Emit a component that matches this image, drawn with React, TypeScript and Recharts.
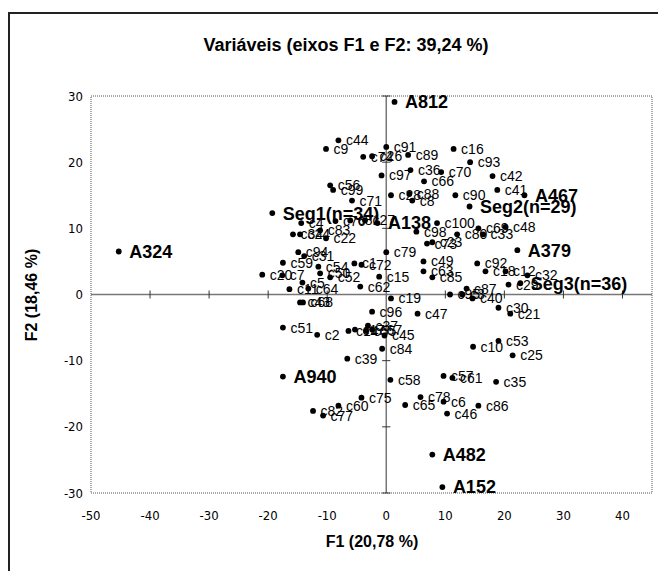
import React from "react";
import {
  ScatterChart,
  Scatter,
  XAxis,
  YAxis,
  ZAxis,
  ReferenceLine,
  ReferenceArea,
  LabelList,
} from "recharts";

// variable points (regular labels)
const varNames = [
  "c44", "c9", "c74", "c26", "c91", "c89", "c16", "c93", "c42", "c97",
  "c36", "c70", "c66", "c56", "c99", "c71", "c28", "c88", "c8", "c90",
  "c41", "c100", "c98", "c80", "c69", "c33", "c48", "c73", "c23", "c49",
  "c79", "c72", "c15", "c63", "c85", "c92", "c18", "c12", "c32", "c29",
  "c87", "c40", "c3", "c95", "c19", "c96", "c47", "c30", "c21", "c51",
  "c2", "c14", "c17", "c37", "c67", "c55", "c45", "c84", "c10", "c53",
  "c25", "c39", "c58", "c57", "c61", "c35", "c75", "c78", "c65", "c6",
  "c46", "c86", "c60", "c82", "c77", "c24", "c34", "c83", "c22", "c4",
  "c76", "c81", "c27", "c94", "c59", "c1", "c20", "c7", "c31", "c52",
  "c50", "c5", "c64", "c62", "c11", "c43", "c68", "c54",
];
const varF1 = [
  -8.1, -10.2, -3.9, -2.4, 0.0, 3.7, 11.4, 14.2, 18.0, -0.8,
  4.1, 9.3, 6.4, -9.5, -9.0, -5.8, 0.8, 3.9, 4.4, 11.7,
  18.8, 8.6, 5.1, 12.0, 15.6, 16.4, 20.2, 6.9, 7.8, 6.3,
  0.0, -4.2, -1.2, 6.3, 7.8, 15.4, 16.8, 20.2, 23.9, 20.7,
  13.6, 14.6, 12.9, 10.8, 0.8, -2.4, 5.3, 19.0, 21.0, -17.5,
  -11.7, -6.4, -5.3, -3.1, -2.4, -3.4, -0.3, -0.7, 14.7, 19.0,
  21.4, -6.6, 0.7, 9.7, 11.2, 18.6, -4.2, 5.8, 3.2, 9.7,
  10.3, 15.6, -8.1, -12.4, -10.7, -14.6, -15.8, -11.2, -10.2, -14.4,
  -8.6, -6.1, -3.6, -14.9, -17.5, -5.4, -21.0, -17.6, -13.9, -9.5,
  -11.2, -14.2, -13.2, -4.4, -16.4, -14.6, -14.1, -11.5,
];
const varF2 = [
  23.3, 22.0, 20.8, 20.9, 22.3, 21.1, 22.0, 20.0, 17.9, 18.0,
  18.8, 18.5, 17.1, 16.5, 15.8, 14.2, 15.0, 15.2, 14.2, 15.0,
  15.8, 10.8, 9.5, 9.1, 10.0, 9.1, 10.2, 7.7, 7.9, 5.0,
  6.4, 4.5, 2.7, 3.5, 2.6, 4.7, 3.5, 3.5, 2.9, 1.5,
  0.9, -0.6, 0.0, 0.0, -0.6, -2.6, -2.9, -2.0, -2.9, -5.0,
  -6.1, -5.5, -5.3, -4.7, -5.3, -5.5, -6.2, -8.2, -7.9, -7.0,
  -9.2, -9.7, -12.9, -12.3, -12.6, -13.2, -15.6, -15.5, -16.7, -16.2,
  -18.0, -16.8, -16.8, -17.6, -18.3, 9.1, 9.1, 9.7, 8.5, 10.8,
  11.1, 11.2, 11.2, 6.4, 4.8, 4.7, 3.0, 2.9, 5.8, 2.6,
  3.2, 1.8, 0.9, 1.2, 0.8, -1.2, -1.2, 4.2,
];

// supplementary points (bold labels)
const supNames = [
  "A812", "A467", "Seg1(n=34)", "Seg2(n=29)", "A138", "A324",
  "A379", "Seg3(n=36)", "A940", "A482", "A152",
];
const supF1 = [1.4, 23.4, -19.3, 14.1, -1.5, -45.3, 22.2, 22.7, -17.5, 7.8, 9.5];
const supF2 = [29.1, 15.0, 12.3, 13.3, 10.8, 6.5, 6.7, 1.7, -12.4, -24.2, -29.1];

const xTicks = [-50, -40, -30, -20, -10, 0, 10, 20, 30, 40];
const yTicks = [-30, -20, -10, 0, 10, 20, 30];

const varData = varNames.map((name, i) => ({ name, x: varF1[i], y: varF2[i] }));
const supData = supNames.map((name, i) => ({ name, x: supF1[i], y: supF2[i] }));

const FONT = "'Liberation Sans', Arial, sans-serif";
const TICK_FONT = "'Liberation Sans Narrow', 'DejaVu Sans Condensed', 'Liberation Sans', sans-serif";

const Dot = (p: any) => <circle cx={p.cx} cy={p.cy} r={2.9} fill="#000" />;

export default function App() {
  return (
    <div style={{ paddingTop: 4 }}>
      <div
        style={{
          position: "relative",
          width: 650,
          height: 570,
          borderLeft: "2px solid #222",
          borderTop: "2px solid #222",
          fontFamily: FONT,
          color: "#000",
        }}
      >
        <div
          style={{
            position: "absolute",
            left: 136,
            width: 400,
            top: 21,
            textAlign: "center",
            fontWeight: "bold",
            fontSize: 18,
          }}
        >
          Variáveis (eixos F1 e F2: 39,24 %)
        </div>
        <div
          style={{
            position: "absolute",
            left: 262,
            width: 200,
            top: 519,
            textAlign: "center",
            fontWeight: "bold",
            fontSize: 16,
          }}
        >
          F1 (20,78 %)
        </div>
        <div
          style={{
            position: "absolute",
            left: 22 - 100,
            width: 200,
            top: 281 - 9,
            textAlign: "center",
            fontWeight: "bold",
            fontSize: 16,
            transform: "rotate(-90deg)",
          }}
        >
          F2 (18,46 %)
        </div>
        <ScatterChart
          width={648}
          height={555}
          margin={{ top: 82, right: 6, bottom: 16, left: 31 }}
        >
          <XAxis
            type="number"
            dataKey="x"
            domain={[-50, 45]}
            ticks={xTicks}
            axisLine={false}
            tickLine={false}
            tickSize={6}
            tickMargin={12}
            height={60}
            tick={{ fill: "#000", fontSize: 13, fontFamily: TICK_FONT }}
          />
          <YAxis
            type="number"
            dataKey="y"
            domain={[-30, 30]}
            ticks={yTicks}
            axisLine={false}
            tickLine={false}
            tickSize={6}
            tickMargin={2}
            width={50}
            tick={{ fill: "#000", fontSize: 13, fontFamily: TICK_FONT }}
          />
          <ZAxis range={[64, 64]} />
          <ReferenceArea
            x1={-50}
            x2={45}
            y1={-30}
            y2={30}
            fill="none"
            stroke="#555"
            strokeDasharray="1 1"
          />
          <ReferenceLine x={0} stroke="#777" strokeWidth={1.5} />
          <ReferenceLine y={0} stroke="#777" strokeWidth={1.5} />
          {xTicks
            .filter((t) => t !== 0 && t !== -50)
            .map((t) => (
              <ReferenceLine
                key={"xt" + t}
                segment={[
                  { x: t, y: -0.6 },
                  { x: t, y: 0.6 },
                ]}
                stroke="#333"
              />
            ))}
          {yTicks
            .filter((t) => t !== 0)
            .map((t) => (
              <ReferenceLine
                key={"yt" + t}
                segment={[
                  { x: -0.7, y: t },
                  { x: 0.7, y: t },
                ]}
                stroke="#333"
              />
            ))}
          <Scatter data={varData} shape={Dot} isAnimationActive={false}>
            <LabelList
              dataKey="name"
              position="right"
              offset={3}
              fill="#000"
              fontSize={14}
              fontFamily={FONT}
            />
          </Scatter>
          <Scatter data={supData} shape={Dot} isAnimationActive={false}>
            <LabelList
              dataKey="name"
              position="right"
              offset={6}
              fill="#000"
              fontSize={18}
              fontWeight="bold"
              fontFamily={FONT}
            />
          </Scatter>
        </ScatterChart>
      </div>
    </div>
  );
}
